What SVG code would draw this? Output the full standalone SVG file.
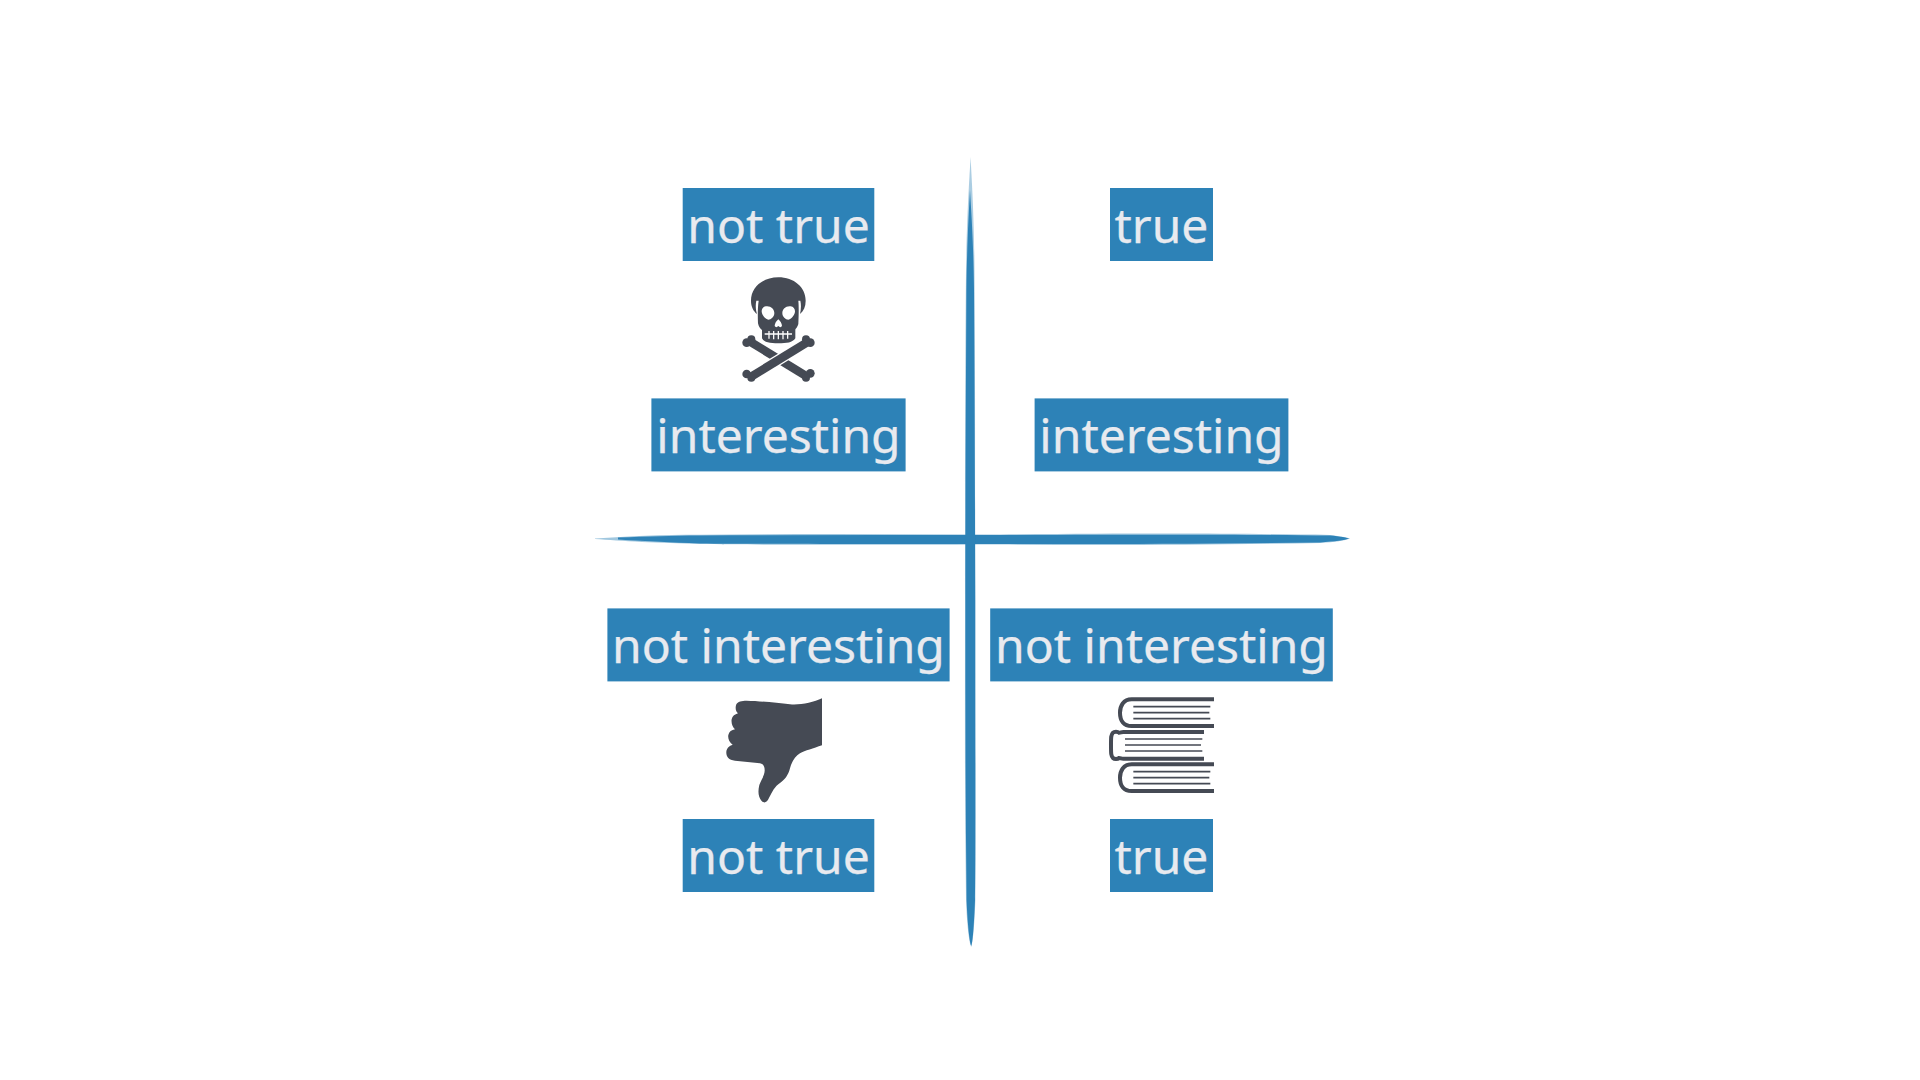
<svg xmlns="http://www.w3.org/2000/svg" width="1920" height="1080" viewBox="0 0 1920 1080">
  <style>
    .box { fill: #2d82b7; }
    .lbl { font-family: "Noto Sans", "Open Sans", sans-serif; font-size: 48px; fill: #e8eaef; text-anchor: middle; stroke: #e8eaef; stroke-width: 0.25; }
    .ink { fill: #454a54; }
    .book { fill: none; stroke: #454a54; stroke-width: 12; }
    .page { fill: none; stroke: #454a54; stroke-width: 4.8; }
  </style>
  <rect width="1920" height="1080" fill="#ffffff"/>
  <g id="connectors">
    <path id="axis-h-soft" fill="#2d82b7" opacity="0.45" d="M595 538.6C630 536 660 535 700 534.8C800 533.5 900 534.2 1000 534.5C1150 533 1250 533.5 1330 535C1340 536 1350 538 1350 538.5C1345 540.5 1335 542 1320 543C1200 545 1100 545.5 1000 544.5C850 545 760 545 700 544C660 543 620 541 595 539Z"/>
    <path id="axis-h" fill="#2d82b7" d="M618 537.6C650 536.2 670 535.6 700 535.4C800 535 900 535 1000 535C1150 534.5 1250 534.5 1330 535.5C1340 536.3 1348 538 1349 538.5C1345 540.2 1335 541.4 1320 542.4C1200 544 1100 544.2 1000 544C850 544 760 544 700 543.4C670 542.8 650 541.4 618 539.6Z"/>
    <path id="axis-v-soft" fill="#2d82b7" opacity="0.4" d="M970.6 157C972 185 974 215 974.5 270C975.5 400 975 500 975.4 600C975.4 750 976 860 975.4 900C974.5 925 973 942 971.3 947C969 942 967 925 966 900C964.5 800 965 700 965 600C965 480 965 380 966 270C967 215 969 185 970.6 157Z"/>
    <path id="axis-v" fill="#2d82b7" d="M970 190C971.5 215 973.5 245 974 290C974.6 400 975 500 975.2 600C975.2 750 975.6 860 975 900C974 925 972.8 942 971.3 946C969.5 942 967.6 925 966.6 900C965.4 800 965.4 700 965.4 600C965.4 480 966 380 966.4 290C967 245 968.6 215 970 190Z"/>
  </g>
  <g id="q1-not-true"><rect class="box" x="682.7" y="188" width="191.6" height="73"/><text class="lbl" x="778.5" y="243">not true</text></g>
  <g id="q1-interesting"><rect class="box" x="651.4" y="398.4" width="254.2" height="73"/><text class="lbl" x="778.5" y="453.4">interesting</text></g>
  <g id="q2-true"><rect class="box" x="1110" y="188" width="103" height="73"/><text class="lbl" x="1161.5" y="243">true</text></g>
  <g id="q2-interesting"><rect class="box" x="1034.6" y="398.4" width="253.8" height="73"/><text class="lbl" x="1161.5" y="453.4">interesting</text></g>
  <g id="q3-not-interesting"><rect class="box" x="607.4" y="608.4" width="342.2" height="73"/><text class="lbl" x="778.5" y="663.4">not interesting</text></g>
  <g id="q3-not-true"><rect class="box" x="682.7" y="819" width="191.6" height="73"/><text class="lbl" x="778.5" y="874">not true</text></g>
  <g id="q4-not-interesting"><rect class="box" x="990.2" y="608.4" width="342.6" height="73"/><text class="lbl" x="1161.5" y="663.4">not interesting</text></g>
  <g id="q4-true"><rect class="box" x="1110" y="819" width="103" height="73"/><text class="lbl" x="1161.5" y="874">true</text></g>
  <g id="icon-skull" transform="translate(640 170) scale(0.33333)">
    <path class="ink" fill-rule="evenodd" d="M415 322C462 322 497 352 497 392C497 410 491 423 480 432C483 420 484 405 481 392L475 392C477 410 476 440 475 462C472 473 466 476 466 480L466 505C458 518 440 520 415 520C390 520 372 518 366 505L366 480C360 476 356 470 354 460C353 440 353 410 356 392L349 392C346 405 347 420 351 432C340 423 333 410 333 392C333 352 368 322 415 322ZM378 409C392 407 403 417 403 429C403 441 393 449 385 449C374 447 365 433 365 424C365 416 370 410 378 409ZM452 409C438 407 427 417 427 429C427 441 437 449 445 449C456 447 465 433 465 424C465 416 460 410 452 409ZM415 448C421 453 426 461 426 468C423 473 419 472 415 468C411 472 407 473 404 468C404 461 409 453 415 448Z"/>
    <path fill="none" stroke="#ffffff" stroke-width="3.8" d="M374 492H456M387 483V506M401 483V508M415 483V508M429 483V508M443 483V506"/>
    <g fill="#454a54">
      <path d="M330 515L505 622" stroke="#454a54" stroke-width="25" fill="none"/>
      <circle cx="320" cy="518" r="13"/><circle cx="334" cy="508" r="12"/>
      <circle cx="511" cy="610" r="13"/><circle cx="498" cy="623" r="12"/>
      <path d="M505 515L330 622" stroke="#ffffff" stroke-width="33" fill="none"/>
      <path d="M505 515L330 622" stroke="#454a54" stroke-width="25" fill="none"/>
      <circle cx="511" cy="518" r="13"/><circle cx="498" cy="508" r="12"/>
      <circle cx="320" cy="612" r="13"/><circle cx="334" cy="623" r="12"/>
    </g>
  </g>
  <g id="icon-thumb" transform="translate(600 600) scale(0.33333)">
    <path class="ink" d="M666 295L666 436C640 445 615 452 600 460C585 470 575 485 570 505C565 525 555 540 535 553C520 565 512 585 505 598C500 608 492 610 485 603C475 592 473 575 478 555C483 540 495 525 494 510C494 500 490 492 480 490C455 487 430 484 405 482C385 480 378 468 379 455C380 445 388 437 398 434C388 428 383 415 385 405C387 395 395 390 405 388C398 382 393 368 395 358C397 348 405 343 414 340C407 335 405 322 409 313C413 305 425 302 440 302C480 303 530 308 570 313C600 316 640 307 666 295Z"/>
  </g>
  <g id="icon-books" transform="translate(1105 692) scale(0.33333)">
    <path class="book" d="M327 22H80C55 22 45 42 45 62C45 85 55 102 80 102H327"/>
    <path class="page" d="M85 44H316M85 62H313M85 80H316"/>
    <path class="book" d="M297 120H55C48 120 48 122 42 122C38 118 28 118 24 122C18 128 18 135 18 160C18 185 18 192 24 198C28 202 38 202 42 198C48 198 48 200 55 200H297"/>
    <path class="page" d="M60 141H292M60 159H288M60 177H292"/>
    <path class="book" d="M327 217H80C55 217 45 237 45 257C45 280 55 297 80 297H327"/>
    <path class="page" d="M85 239H316M85 257H313M85 275H316"/>
  </g>
</svg>
